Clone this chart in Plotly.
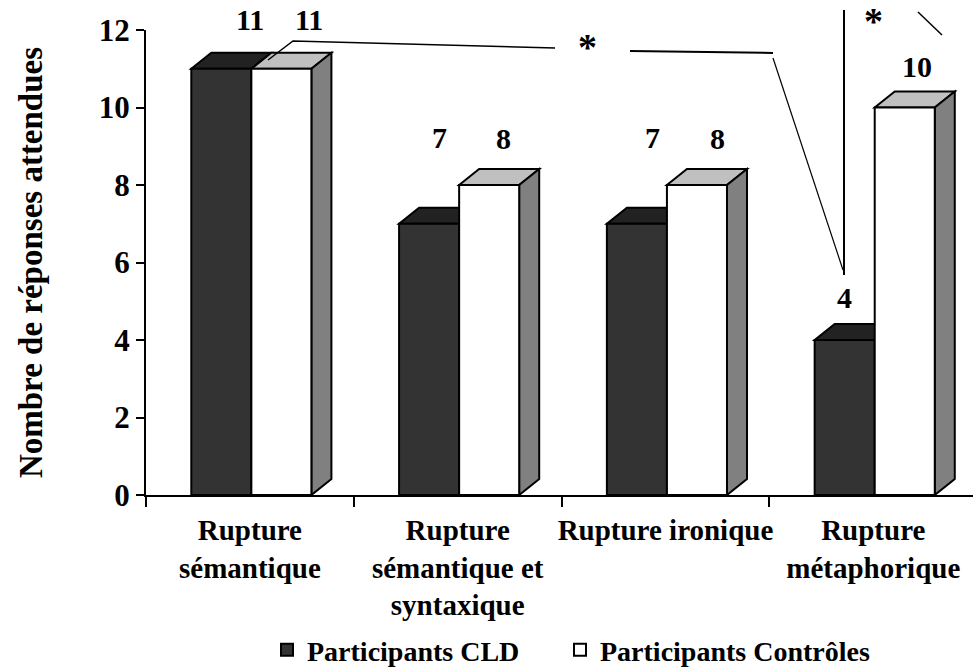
import plotly.graph_objects as go

# ---------------- data ----------------
categories = ["Rupture<br>sémantique",
              "Rupture<br>sémantique et<br>syntaxique",
              "Rupture ironique",
              "Rupture<br>métaphorique"]
cld = [11, 7, 7, 4]
controles = [11, 8, 8, 10]
series_names = ["Participants CLD", "Participants Contrôles"]
y_tickvals = [0, 2, 4, 6, 8, 10, 12]
y_title = "Nombre de réponses attendues"

# ---------------- style / layout ----------------
FONT = "Liberation Serif, Times New Roman, serif"
W, H = 973, 669
ML, MR, MT, MB = 146, 0, 30, 174
XR = [-0.5, 3.48]
YR = [0, 12]
BAR_W = 0.289
OFF_D = -0.282
OFF_W = OFF_D + BAR_W
DX = 0.0963   # depth offset (x units)
DY = 0.413    # depth offset (y units)
C_DARK, C_DARK_TOP = "#333333", "#222222"
C_WHITE, C_WHITE_TOP, C_SIDE = "#ffffff", "#c0c0c0", "#808080"

# value label pixel shifts (x, y) relative to bar front-top centre
lab_dark_shift = [(29, 49), (10, 86), (16, 86), (0, 43)]
lab_white_shift = [(28, 49), (14, 47), (21, 47), (12, 41)]

xs = list(range(len(categories)))
PW = W - ML - MR
PH = H - MT - MB


def pp(xp, yp):
    """pixel -> paper coordinates (for decorative annotation lines)"""
    return (xp - ML) / PW, (H - MB - yp) / PH


fig = go.Figure()

fig.add_trace(go.Bar(x=xs, y=cld, width=BAR_W, offset=OFF_D, name=series_names[0],
                     legend="legend",
                     marker=dict(color=C_DARK, line=dict(color="black", width=2))))
fig.add_trace(go.Bar(x=xs, y=controles, width=BAR_W, offset=OFF_W, name=series_names[1],
                     legend="legend2",
                     marker=dict(color=C_WHITE, line=dict(color="black", width=2))))

shapes = []


def top_path(x0, v):
    x1 = x0 + BAR_W
    return f"M{x0},{v} L{x1},{v} L{x1 + DX},{v + DY} L{x0 + DX},{v + DY} Z"


def side_path(x0, v):
    x1 = x0 + BAR_W
    return f"M{x1},0 L{x1},{v} L{x1 + DX},{v + DY} L{x1 + DX},{DY} Z"


for i, v in enumerate(cld):
    shapes.append(dict(type="path", xref="x", yref="y", layer="below",
                       path=top_path(i + OFF_D, v), fillcolor=C_DARK_TOP,
                       line=dict(color="black", width=2)))
for i, v in enumerate(controles):
    shapes.append(dict(type="path", xref="x", yref="y", layer="below",
                       path=top_path(i + OFF_W, v), fillcolor=C_WHITE_TOP,
                       line=dict(color="black", width=2)))
    shapes.append(dict(type="path", xref="x", yref="y", layer="below",
                       path=side_path(i + OFF_W, v), fillcolor=C_SIDE,
                       line=dict(color="black", width=2)))


# significance brackets (decorative)
def poly(pts, width=1.5):
    p = [pp(*q) for q in pts]
    d = "M" + " L".join(f"{a},{b}" for a, b in p)
    return dict(type="path", xref="paper", yref="paper", path=d,
                line=dict(color="black", width=width))


shapes.append(poly([(268, 60), (293, 41), (555, 48)]))
shapes.append(poly([(630, 51), (773, 53)], 2))
shapes.append(poly([(773, 58), (843, 270)], 1.2))
shapes.append(poly([(844, 10), (844, 275)], 2))
shapes.append(poly([(918, 12), (942, 35)], 1.5))

annotations = []
LABEL_FONT = dict(family=FONT, size=30, color="black", weight="bold")
for i, v in enumerate(cld):
    sx, sy = lab_dark_shift[i]
    annotations.append(dict(x=i + OFF_D + BAR_W / 2, y=v, xref="x", yref="y",
                            text=str(v), showarrow=False, xshift=sx, yshift=sy,
                            xanchor="center", yanchor="middle", font=LABEL_FONT))
for i, v in enumerate(controles):
    sx, sy = lab_white_shift[i]
    annotations.append(dict(x=i + OFF_W + BAR_W / 2, y=v, xref="x", yref="y",
                            text=str(v), showarrow=False, xshift=sx, yshift=sy,
                            xanchor="center", yanchor="middle", font=LABEL_FONT))

for (xp, yp) in [(587, 47), (873, 21)]:
    ax, ay = pp(xp, yp)
    annotations.append(dict(x=ax, y=ay, xref="paper", yref="paper", text="*",
                            showarrow=False, xanchor="center", yanchor="middle",
                            font=dict(family=FONT, size=38, color="black", weight="bold")))

LEG_FONT = dict(family=FONT, size=28, color="black", weight="bold")
fig.update_layout(
    width=W, height=H,
    margin=dict(l=ML, r=MR, t=MT, b=MB, autoexpand=False),
    paper_bgcolor="white", plot_bgcolor="white",
    barmode="overlay",
    shapes=shapes, annotations=annotations,
    font=dict(family=FONT, size=28, color="black", weight="bold"),
    showlegend=True,
    legend=dict(orientation="h", x=(267 - ML) / PW, y=(H - MB - 625) / PH,
                xanchor="left", yanchor="top", font=LEG_FONT,
                bgcolor="rgba(0,0,0,0)", itemclick=False),
    legend2=dict(orientation="h", x=(560 - ML) / PW, y=(H - MB - 625) / PH,
                 xanchor="left", yanchor="top", font=LEG_FONT,
                 bgcolor="rgba(0,0,0,0)", itemclick=False),
    xaxis=dict(range=XR, tickmode="array", tickvals=xs, ticktext=categories,
               ticks="", showgrid=False, zeroline=False,
               showline=True, linecolor="black", linewidth=2,
               ticklabelstandoff=8,
               tickfont=dict(family=FONT, size=29, color="black", weight="bold"),
               minor=dict(tickmode="array", tickvals=[x - 0.5 for x in xs] + [xs[-1] + 0.5],
                          ticks="outside", ticklen=10, tickwidth=2, tickcolor="black",
                          showgrid=False),
               fixedrange=True),
    yaxis=dict(range=YR, tickmode="array", tickvals=y_tickvals,
               ticks="outside", ticklen=8, tickwidth=2, tickcolor="black",
               showgrid=False, zeroline=False,
               showline=True, linecolor="black", linewidth=2,
               tickfont=dict(family=FONT, size=31, color="black", weight="bold"),
               title=dict(text=y_title, standoff=46,
                          font=dict(family=FONT, size=33, color="black", weight="bold")),
               fixedrange=True),
)

fig.write_html("out.html", config={"displayModeBar": False},
               post_script="document.body.style.margin='0px';")
